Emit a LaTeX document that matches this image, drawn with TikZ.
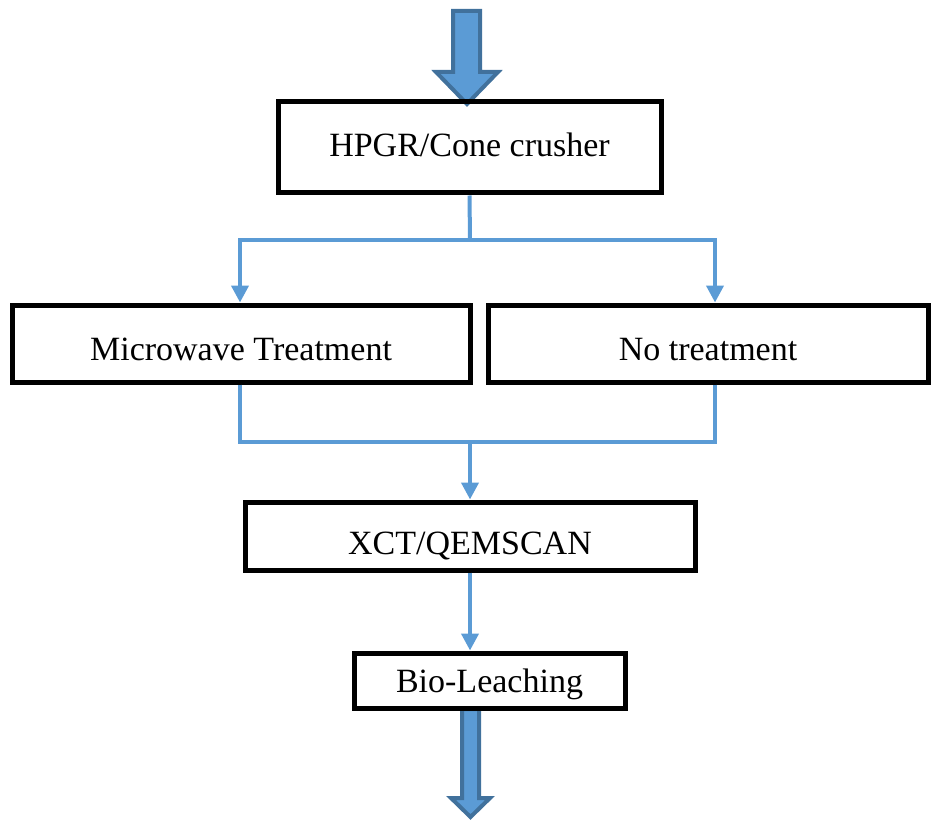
\documentclass[tikz,border=0pt]{standalone}
\usepackage{fontspec}
\setmainfont{Liberation Serif}
\usetikzlibrary{arrows.meta}
\definecolor{flowblue}{HTML}{5B9BD5}
\definecolor{edgeblue}{HTML}{41719C}
\begin{document}
\begin{tikzpicture}[x=1pt, y=-1pt,
  stage/.style={rectangle, draw, line width=5pt, inner sep=0pt, text depth=0pt, text height=23pt, font=\fontsize{34}{40}\selectfont},
  flow/.style={draw=flowblue, line width=4pt, -{Triangle[width=17pt,length=17pt]}},
  link/.style={draw=flowblue, line width=4pt},
  bigarrow/.style={fill=flowblue, draw=edgeblue, line width=4pt, line join=miter}]
  \useasboundingbox (0,0) rectangle (934,821);
  % Feed and product arrows
  \draw[bigarrow] (453,11) -- (480,11) -- (480,72) -- (498,72) -- (467,104) -- (436,72) -- (453,72) -- cycle;
  \draw[bigarrow] (462,709) -- (479,709) -- (479,798) -- (490,798) -- (470.5,817) -- (451,798) -- (462,798) -- cycle;
  % Nodes
  \node (hpgr) [stage, text height=19pt, minimum width=383, minimum height=91] at (469.5, 147.5) {HPGR/Cone crusher};
  \node (micro) [stage, text height=33pt, minimum width=458, minimum height=77] at (241, 343.5) {Microwave Treatment};
  \node (none) [stage, text height=33pt, minimum width=440, minimum height=77] at (708, 343.5) {No treatment};
  \node (xct) [stage, text height=37pt, minimum width=450, minimum height=68] at (470, 536) {XCT/QEMSCAN};
  \node (bio) [stage, minimum width=271, minimum height=55] at (489.5, 680.5) {Bio-Leaching};
  \coordinate (split) at (470, 240);
  \coordinate (merge) at (470, 442);
  % Arrows
  \draw[link] (hpgr.south) -- (split);
  \draw[flow] (split) -| ([xshift=-1pt]micro.north);
  \draw[flow] (split) -| ([xshift=7pt]none.north);
  \draw[link] ([xshift=-1pt]micro.south) |- (merge);
  \draw[link] ([xshift=7pt]none.south) |- (merge);
  \draw[flow] (merge) -- (xct.north);
  \draw[flow] (xct.south) -- (xct.south |- bio.north);
\end{tikzpicture}
\end{document}
